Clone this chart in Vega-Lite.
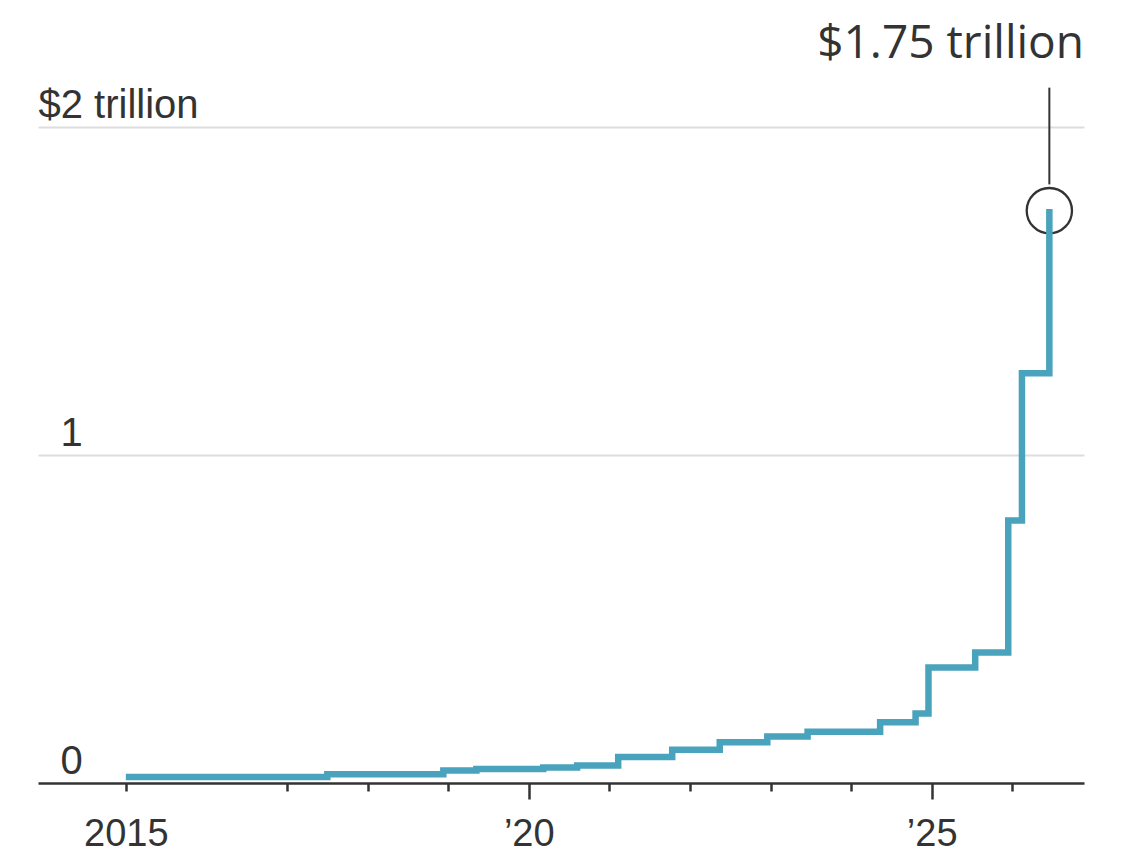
{
  "$schema": "https://vega.github.io/schema/vega-lite/v6.json",
  "width": 1046,
  "height": 656,
  "autosize": {"type": "none"},
  "padding": {"left": 38, "top": 127, "right": 38, "bottom": 73},
  "background": "#ffffff",
  "config": {
    "view": {"stroke": null},
    "axis": {"labelFont": "Liberation Sans", "labelColor": "#333333", "titleFont": "Liberation Sans"}
  },
  "datasets": {
    "series": [
      {"year": 2015.0, "value": 0.018},
      {"year": 2017.5, "value": 0.027},
      {"year": 2018.94, "value": 0.038},
      {"year": 2019.35, "value": 0.043},
      {"year": 2020.18, "value": 0.047},
      {"year": 2020.6, "value": 0.053},
      {"year": 2021.11, "value": 0.079},
      {"year": 2021.78, "value": 0.101},
      {"year": 2022.37, "value": 0.124},
      {"year": 2022.96, "value": 0.142},
      {"year": 2023.46, "value": 0.156},
      {"year": 2024.36, "value": 0.185},
      {"year": 2024.8, "value": 0.212},
      {"year": 2024.96, "value": 0.352},
      {"year": 2025.54, "value": 0.398},
      {"year": 2025.95, "value": 0.8},
      {"year": 2026.12, "value": 1.249},
      {"year": 2026.46, "value": 1.75}
    ],
    "note": [
      {"year": 2026.46, "value": 1.745, "top": 2.12, "bottom": 1.825, "label_year": 2026.89, "label_value": 2.21, "label": "$1.75 trillion"}
    ]
  },
  "layer": [
    {
      "data": {"name": "note"},
      "mark": {"type": "point", "shape": "circle", "filled": false, "size": 2050, "stroke": "#333333", "strokeWidth": 2.3, "opacity": 1},
      "encoding": {
        "x": {"field": "year", "type": "quantitative",
          "scale": {"domain": [2013.91, 2026.89], "nice": false, "zero": false},
          "axis": {
            "values": [2015, 2017, 2018, 2019, 2020, 2021, 2022, 2023, 2024, 2025, 2026],
            "title": null,
            "grid": false,
            "domainColor": "#333333",
            "domainWidth": 2.5,
            "tickColor": "#333333",
            "tickWidth": 2.5,
            "tickSize": {"condition": {"test": "datum.value == 2020 || datum.value == 2025", "value": 16}, "value": 8},
            "labelFontSize": 38,
            "labelPadding": {"condition": {"test": "datum.value == 2020 || datum.value == 2025", "value": 16}, "value": 24},
            "labelExpr": "datum.value == 2015 ? '2015' : datum.value == 2020 ? '\u201920' : datum.value == 2025 ? '\u201925' : ''",
            "labelFlush": false,
            "labelOverlap": false
          }
        },
        "y": {"field": "value", "type": "quantitative",
          "scale": {"domain": [0, 2], "nice": false},
          "axis": {
            "values": [0, 1, 2],
            "title": null,
            "domain": false,
            "ticks": false,
            "tickSize": 0,
            "gridColor": "#dddddd",
            "gridWidth": 2,
            "gridOpacity": {"condition": {"test": "datum.value == 0", "value": 0}, "value": 1},
            "labelFontSize": 40,
            "labelAlign": "left",
            "labelBaseline": "alphabetic",
            "labelOffset": -10,
            "labelPadding": {"condition": {"test": "datum.value == 2", "value": 0}, "value": -22},
            "labelExpr": "datum.value == 2 ? '$2 trillion' : format(datum.value, 'd')"
          }
        }
      }
    },
    {
      "data": {"name": "note"},
      "mark": {"type": "rule", "color": "#333333", "strokeWidth": 2},
      "encoding": {
        "x": {"field": "year", "type": "quantitative"},
        "y": {"field": "top", "type": "quantitative"},
        "y2": {"field": "bottom"}
      }
    },
    {
      "data": {"name": "series"},
      "mark": {"type": "line", "interpolate": "step-after", "color": "#4aa3bd", "strokeWidth": 6.5},
      "encoding": {
        "x": {"field": "year", "type": "quantitative"},
        "y": {"field": "value", "type": "quantitative"}
      }
    },
    {
      "data": {"name": "note"},
      "mark": {"type": "text", "align": "right", "baseline": "alphabetic", "font": "Open Sans", "fontSize": 46, "color": "#333333"},
      "encoding": {
        "x": {"field": "label_year", "type": "quantitative"},
        "y": {"field": "label_value", "type": "quantitative"},
        "text": {"field": "label"}
      }
    }
  ]
}
